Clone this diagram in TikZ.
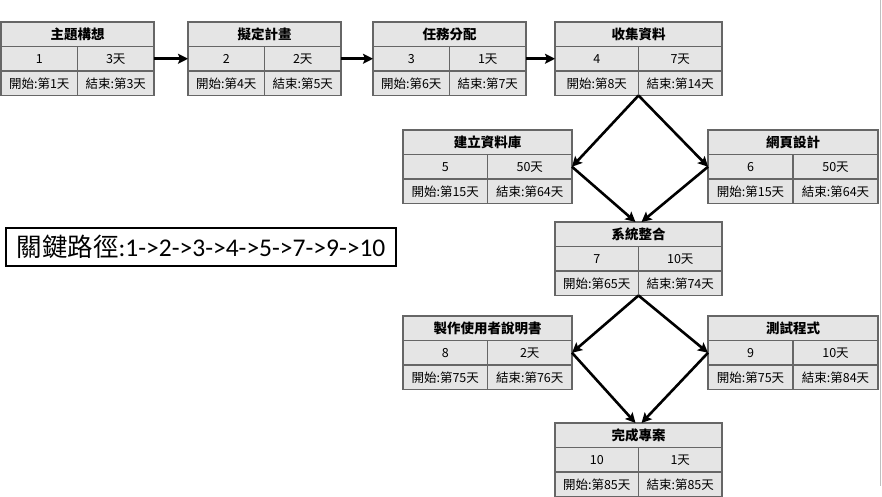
\documentclass[tikz,border=0pt]{standalone}
\usepackage{fontspec}
\setmainfont{Noto Sans CJK TC}
\newfontfamily\calibri{Carlito}
\usetikzlibrary{arrows.meta,positioning}
\tikzset{
    %Define standard arrow tip
    >={Stealth[length=10pt,width=10pt,inset=2pt]},
    %Define style for table cells
    zelle/.style={
           rectangle,
           draw=black!60, line width=1.2pt,
           fill=black!10,
           outer sep=0pt, inner sep=0pt,
           minimum height=24.5pt,
           font=\fontsize{12.5}{14}\selectfont},
    kopf/.style={
           zelle,
           font=\fontsize{13.5}{15}\selectfont\bfseries},
    % Define arrow style
    pil/.style={
           ->,
           line width=2.6pt},
    % box for the path text
    pfad/.style={
           rectangle,
           draw=black, line width=1.6pt,
           minimum width=390pt, minimum height=38pt,
           inner sep=0pt}
}
% one task: name, top left, width, title, nr, days, start, end
\newcommand{\taskbox}[8]{%
  \node[kopf, minimum width=#3, anchor=north west] (#1) at (#2) {#4};
  \node[zelle, minimum width=#3/2, anchor=north west] (#1-nr) at (#1.south west) {#5};
  \node[zelle, minimum width=#3/2, anchor=north east] (#1-dauer) at (#1.south east) {#6};
  \node[zelle, minimum width=#3/2, anchor=north west] (#1-start) at (#1-nr.south west) {開始:第#7天};
  \node[zelle, minimum width=#3/2, anchor=north east] (#1-ende) at (#1-dauer.south east) {結束:第#8天};
}

\begin{document}
\begin{tikzpicture}[x=1pt, y=-1pt]
 \useasboundingbox (0,0) rectangle (882,497);
 \draw[black!25, line width=1pt] (880.5,0) -- (880.5,486);
 %nodes
 \taskbox{idea}{1,22}{153pt}{主題構想}{1}{3天}{1}{3}
 \taskbox{plan}{188,22}{153pt}{擬定計畫}{2}{2天}{4}{5}
 \taskbox{assign}{373,22}{153pt}{任務分配}{3}{1天}{6}{7}
 \taskbox{collect}{555,22}{167pt}{收集資料}{4}{7天}{8}{14}
 \taskbox{database}{403,130}{169pt}{建立資料庫}{5}{50天}{15}{64}
 \taskbox{web}{708,130}{170pt}{網頁設計}{6}{50天}{15}{64}
 \taskbox{integrate}{555,222}{167pt}{系統整合}{7}{10天}{65}{74}
 \taskbox{manual}{403,316}{169pt}{製作使用者說明書}{8}{2天}{75}{76}
 \taskbox{testing}{708,316}{170pt}{測試程式}{9}{10天}{75}{84}
 \taskbox{finish}{555,423}{167pt}{完成專案}{10}{1天}{85}{85}
 \node[pfad] (path) at (201,247)
   {\fontsize{25.5}{28}\selectfont 關鍵路徑\calibri :1->2->3->4->5->7->9->10};
 % edges
 \draw[pil] (idea-dauer.east) -- (plan-nr.west);
 \draw[pil] (plan-dauer.east) -- (assign-nr.west);
 \draw[pil] (assign-dauer.east) -- (collect-nr.west);
 \draw[pil] (collect-ende.south west) -- (database-dauer.east);
 \draw[pil] (collect-ende.south west) -- (web-nr.west);
 \draw[pil] (database-dauer.east) -- ([xshift=-3pt]integrate.north);
 \draw[pil] (web-nr.west) -- ([xshift=3pt]integrate.north);
 \draw[pil] (integrate-ende.south west) -- (manual-dauer.east);
 \draw[pil] (integrate-ende.south west) -- (testing-nr.west);
 \draw[pil] (manual-dauer.east) -- ([xshift=-3pt]finish.north);
 \draw[pil] (testing-nr.west) -- ([xshift=3pt]finish.north);
\end{tikzpicture}
\end{document}
